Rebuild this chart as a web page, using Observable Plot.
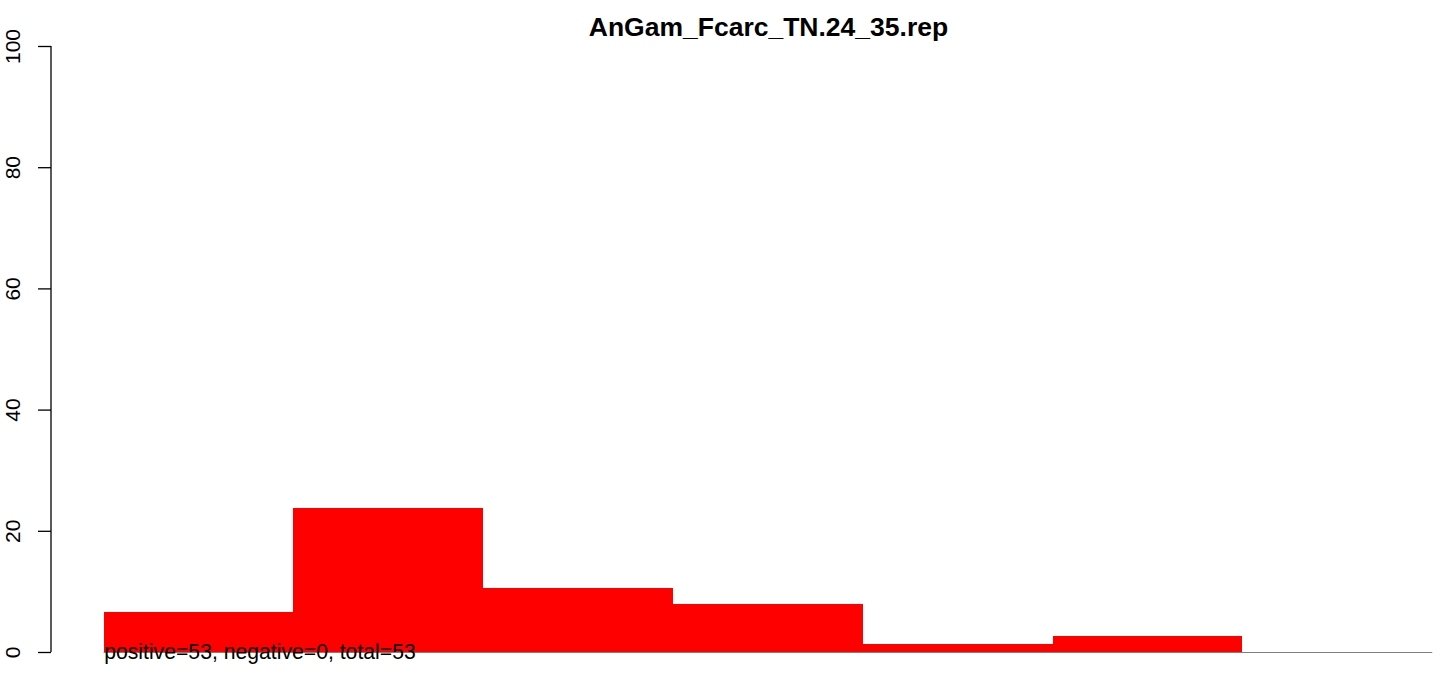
<!DOCTYPE html>
<html>
<head>
<meta charset="utf-8">
<script src="https://cdn.jsdelivr.net/npm/d3@7"></script>
<script src="https://cdn.jsdelivr.net/npm/@observablehq/plot@0.6"></script>
<style>
  html, body { margin: 0; padding: 0; background: #fff; }
  #chart svg { display: block; font-family: "Liberation Sans", Arial, Helvetica, sans-serif; }
</style>
</head>
<body>
<div id="chart"></div>
<script>
// Data (percent of replicates per bin)
const titleText = "AnGam_Fcarc_TN.24_35.rep";
const bins = [0, 1, 2, 3, 4, 5, 6];
const values = [6.58, 23.68, 10.53, 7.89, 1.32, 2.63, 0];
const yTicks = [0, 20, 40, 60, 80, 100];
const noteText = "positive=53, negative=0, total=53";

const bars = bins.map((b, i) => ({x1: b, x2: b + 1, v: values[i]}));
const xDomain = [-0.28, bins.length + 0.28];

const chart = Plot.plot({
  width: 1444,
  height: 676,
  marginTop: 22,
  marginBottom: 0,
  marginLeft: 51,
  marginRight: 0,
  style: {fontFamily: '"Liberation Sans", Arial, Helvetica, sans-serif', background: "#fff"},
  x: {type: "linear", domain: xDomain, range: [50.5, 1485.4], axis: null},
  y: {domain: [0, 100], range: [652, 46], axis: null},
  marks: [
    Plot.rectY(bars, {x1: "x1", x2: "x2", y: "v", fill: "#ff0000", shapeRendering: "crispEdges"}),
    Plot.ruleY([0], {x1: bins[0], x2: bins[bins.length - 1] + 1, stroke: "#7f7f7f", strokeWidth: 1.2}),
    // y axis line and ticks
    Plot.ruleX([0], {x: () => xDomain[0], y1: yTicks[0], y2: yTicks[yTicks.length - 1], stroke: "#000", strokeWidth: 1.3}),
    Plot.axisY({ticks: yTicks, tickSize: 13, text: null, label: null, stroke: "#000", strokeWidth: 1.3}),
    Plot.text(yTicks, {y: d => d, text: d => String(d), frameAnchor: "left", dx: -38, rotate: -90,
      textAnchor: "middle", lineAnchor: "middle", fontSize: 21, fill: "#000"}),
    // note at the baseline
    Plot.text([noteText], {x: bins[0], y: 0, text: d => d, textAnchor: "start", lineAnchor: "middle",
      fontSize: 21.2, fill: "#000"}),
    // title
    Plot.text([titleText], {x: (xDomain[0] + xDomain[1]) / 2, frameAnchor: "top", dy: 5, text: d => d,
      textAnchor: "middle", lineAnchor: "middle", fontSize: 26.5, fontWeight: "bold", fill: "#000"})
  ]
});
document.getElementById("chart").appendChild(chart);
</script>
</body>
</html>
